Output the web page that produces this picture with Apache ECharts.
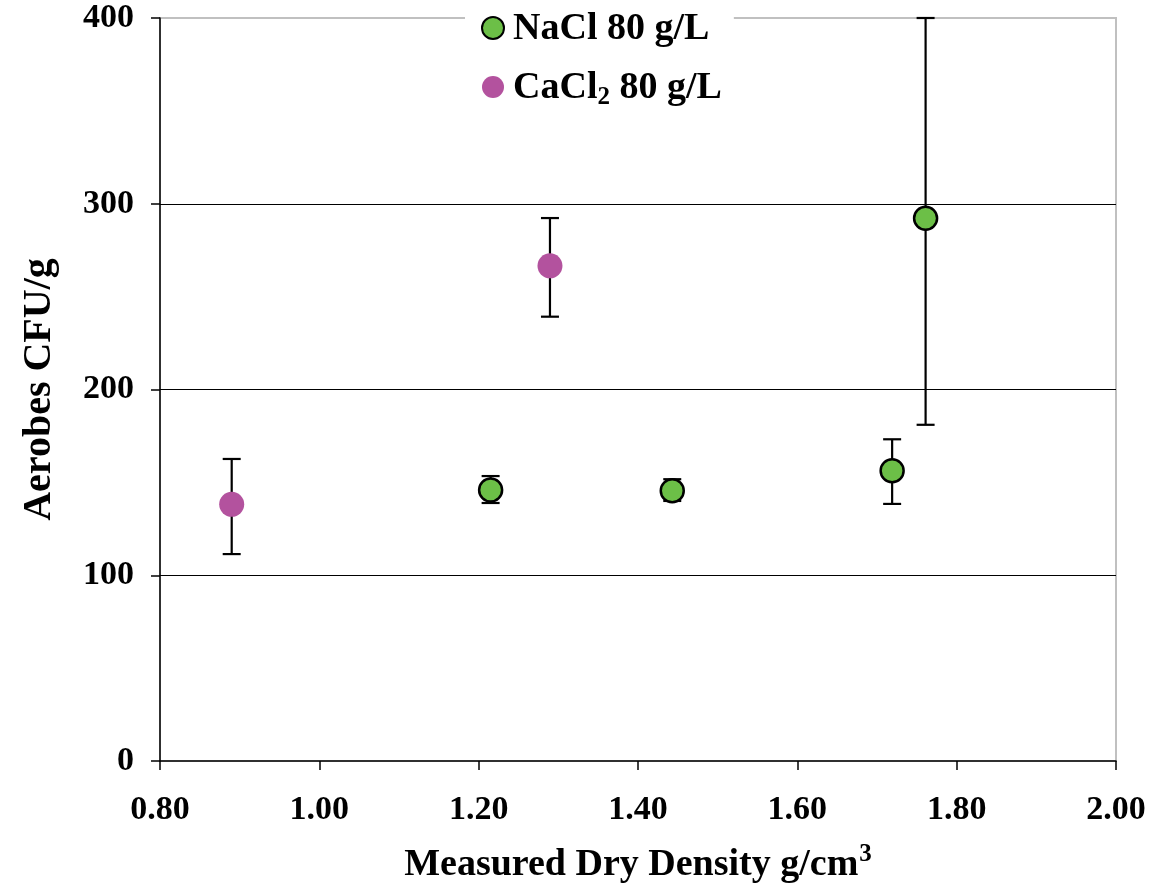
<!DOCTYPE html>
<html>
<head>
<meta charset="utf-8">
<script src="https://cdn.jsdelivr.net/npm/echarts@6/dist/echarts.min.js"></script>
<style>
  html, body { margin: 0; padding: 0; background: #fff; }
  #chart { width: 1153px; height: 893px; }
</style>
</head>
<body>
<div id="chart"></div>
<script>
// NaCl 80 g/L : density, CFU/g, error bar low / high
const naclX = [1.215, 1.443, 1.719, 1.761];
const naclY = [145.9, 145.5, 156.3, 292.2];
const naclLow = [138.9, 140.0, 138.4, 181.0];
const naclHigh = [153.4, 151.7, 173.2, 400.0];

// CaCl2 80 g/L
const caclX = [0.890, 1.2895];
const caclY = [138.2, 266.6];
const caclLow = [111.4, 239.2];
const caclHigh = [162.6, 292.3];

const xTicks = [0.8, 1.0, 1.2, 1.4, 1.6, 1.8, 2.0];
const yTicks = [0, 100, 200, 300, 400];

const FONT = 'Liberation Serif';

const chart = echarts.init(document.getElementById('chart'));

// error bars as custom series
function errBars(xs, lo, hi) {
  return xs.map((x, i) => [x, lo[i], hi[i]]);
}
function renderErr(params, api) {
  const x = api.value(0);
  const p1 = api.coord([x, api.value(1)]);
  const p2 = api.coord([x, api.value(2)]);
  const w = 9;
  const style = { stroke: '#000', lineWidth: 2.2 };
  return {
    type: 'group',
    children: [
      { type: 'line', shape: { x1: p1[0], y1: p1[1], x2: p2[0], y2: p2[1] }, style },
      { type: 'line', shape: { x1: p1[0] - w, y1: p1[1], x2: p1[0] + w, y2: p1[1] }, style },
      { type: 'line', shape: { x1: p2[0] - w, y1: p2[1], x2: p2[0] + w, y2: p2[1] }, style }
    ]
  };
}

const option = {
  animation: false,
  backgroundColor: '#fff',
  grid: {
    left: 160, right: 37, top: 18, bottom: 132,
    show: true, borderColor: '#c0c0c0', borderWidth: 2
  },
  legend: {
    orient: 'vertical',
    left: 465,
    top: 1,
    padding: [4, 12, 4, 16],
    backgroundColor: '#fff',
    itemGap: 13,
    itemWidth: 22,
    itemHeight: 22,
    icon: 'circle',
    data: ['NaCl 80 g/L', 'CaCl2 80 g/L'],
    formatter: name => name === 'CaCl2 80 g/L' ? 'CaCl{sub|2} 80 g/L' : name,
    textStyle: {
      fontFamily: FONT, fontWeight: 'bold', fontSize: 38, color: '#000', lineHeight: 44,
      padding: [2, 0, 0, 4],
      rich: {
        sub: { fontFamily: FONT, fontWeight: 'bold', fontSize: 25, color: '#000', verticalAlign: 'bottom', lineHeight: 44, padding: [14, 0, 0, 0] }
      }
    }
  },
  xAxis: {
    type: 'value',
    min: 0.8, max: 2.0, interval: 0.2,
    name: 'Measured Dry Density g/cm{sup|3}',
    nameLocation: 'middle',
    nameGap: 81,
    nameTextStyle: {
      fontFamily: FONT, fontWeight: 'bold', fontSize: 38, color: '#000',
      rich: {
        sup: { fontFamily: FONT, fontWeight: 'bold', fontSize: 25, color: '#000', verticalAlign: 'top', padding: [0, 0, 22, 1] }
      }
    },
    axisLine: { show: true, lineStyle: { color: '#000', width: 1.5 } },
    axisTick: { show: true, inside: false, length: 9, lineStyle: { color: '#000', width: 1.5 } },
    axisLabel: {
      margin: 32,
      fontFamily: FONT, fontWeight: 'bold', fontSize: 34, color: '#000',
      formatter: v => xTicks.some(t => Math.abs(t - v) < 1e-6) ? v.toFixed(2) : ''
    },
    splitLine: { show: false }
  },
  yAxis: {
    type: 'value',
    min: 0, max: 400, interval: 100,
    name: 'Aerobes CFU/g',
    nameLocation: 'middle',
    nameGap: 100,
    nameTextStyle: { fontFamily: FONT, fontWeight: 'bold', fontSize: 40, color: '#000' },
    axisLine: { show: true, lineStyle: { color: '#000', width: 1.5 } },
    axisTick: { show: true, inside: false, length: 9, lineStyle: { color: '#000', width: 1.5 } },
    axisLabel: {
      margin: 26,
      fontFamily: FONT, fontWeight: 'bold', fontSize: 34, color: '#000',
      formatter: v => yTicks.includes(v) ? String(v) : ''
    },
    splitLine: { show: true, showMinLine: false, showMaxLine: false, lineStyle: { color: '#000', width: 1 } }
  },
  series: [
    {
      type: 'custom',
      name: 'nacl-err',
      renderItem: renderErr,
      data: errBars(naclX, naclLow, naclHigh),
      encode: { x: 0, y: [1, 2] },
      z: 2, silent: true
    },
    {
      type: 'custom',
      name: 'cacl-err',
      renderItem: renderErr,
      data: errBars(caclX, caclLow, caclHigh),
      encode: { x: 0, y: [1, 2] },
      z: 2, silent: true
    },
    {
      type: 'scatter',
      name: 'NaCl 80 g/L',
      symbol: 'circle',
      symbolSize: 23,
      itemStyle: { color: '#6cbf47', borderColor: '#000', borderWidth: 2.5, opacity: 1 },
      data: naclX.map((x, i) => [x, naclY[i]]),
      z: 5
    },
    {
      type: 'scatter',
      name: 'CaCl2 80 g/L',
      symbol: 'circle',
      symbolSize: 25,
      itemStyle: { color: '#b3529e', opacity: 1 },
      data: caclX.map((x, i) => [x, caclY[i]]),
      z: 5
    }
  ]
};

chart.setOption(option);
</script>
</body>
</html>
